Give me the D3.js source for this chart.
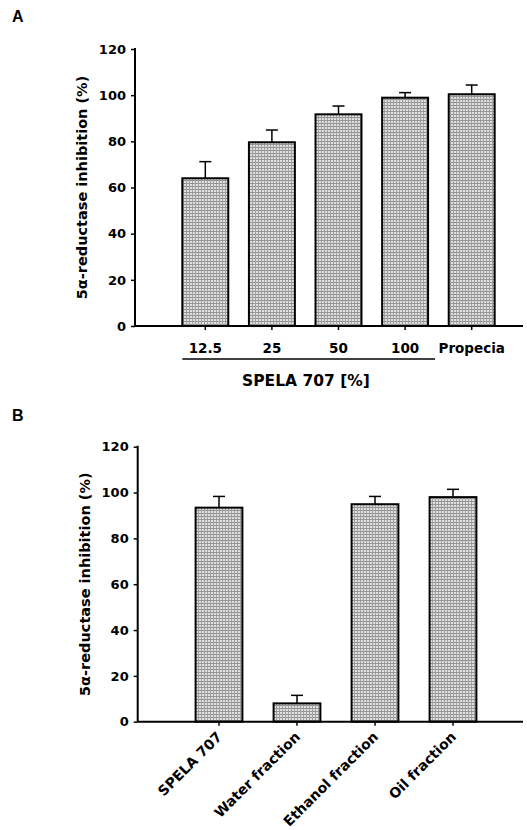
<!DOCTYPE html>
<html>
<head>
<meta charset="utf-8">
<script src="https://cdn.jsdelivr.net/npm/d3@7"></script>
<style>
  body { margin: 0; background: #fff; }
  svg { display: block; }
  text { font-family: "DejaVu Sans", Arial, sans-serif; font-weight: bold; fill: #000; }
</style>
</head>
<body>
<div id="chart"></div>
<script>
// panel A: SPELA 707 dilutions vs Propecia
var catsA = ["12.5", "25", "50", "100", "Propecia"];
var valsA = [64.0, 79.6, 91.7, 98.9, 100.4];
var errA = [7.2, 5.3, 3.6, 2.2, 4.0];

// panel B: fractions
var catsB = ["SPELA 707", "Water fraction", "Ethanol fraction", "Oil fraction"];
var valsB = [93.4, 8.0, 94.9, 98.0];
var errB = [4.9, 3.5, 3.4, 3.4];

var yTicks = [0, 20, 40, 60, 80, 100, 120];
var yLabel = "5\u03b1-reductase inhibition (%)";

var svg = d3.select("#chart").append("svg")
    .attr("width", 527)
    .attr("height", 830);

// stippled fill like the scanned figure
var pat = svg.append("defs").append("pattern")
    .attr("id", "stipple")
    .attr("patternUnits", "userSpaceOnUse")
    .attr("width", 3)
    .attr("height", 3);
pat.append("rect").attr("width", 3).attr("height", 3).attr("fill", "#e0e0e0");
pat.append("rect").attr("width", 3).attr("height", 1).attr("fill", "#909090");
pat.append("rect").attr("width", 1).attr("height", 3).attr("fill", "#a0a0a0");

function drawPanel(opts) {
    var g = svg.append("g");

    var y = d3.scaleLinear().domain([0, 120]).range([opts.y0, opts.y120]);
    var x = d3.scaleBand()
        .domain(opts.cats)
        .range(opts.xRange)
        .paddingInner(opts.pad)
        .paddingOuter(opts.pad / 2);

    // panel letter
    g.append("text")
        .attr("x", 12)
        .attr("y", opts.letterY)
        .style("font-size", "16px")
        .style("font-family", "'Liberation Sans', Arial, sans-serif")
        .text(opts.letter);

    // y axis
    var yAxis = d3.axisLeft(y).tickValues(yTicks).tickSize(4).tickPadding(5);
    var ya = g.append("g")
        .attr("transform", "translate(" + opts.axisX + ",0)")
        .call(yAxis);
    ya.select(".domain").attr("stroke-width", 2).attr("d", "M0," + (opts.y120 - 1) + "V" + opts.y0);
    ya.selectAll(".tick line").attr("stroke-width", 1.5);
    ya.selectAll(".tick text")
        .style("font-family", "'DejaVu Sans', Arial, sans-serif")
        .style("font-weight", "bold")
        .style("font-size", "13px");

    g.append("text")
        .attr("transform", "translate(" + opts.labelX + "," + ((opts.y0 + opts.y120) / 2) + ") rotate(-90)")
        .attr("text-anchor", "middle")
        .style("font-size", "14.5px")
        .text(yLabel);

    // bars
    g.selectAll(".bar")
        .data(opts.vals)
        .enter().append("rect")
        .attr("class", "bar")
        .attr("x", function (d, i) { return x(opts.cats[i]); })
        .attr("y", function (d) { return y(d); })
        .attr("width", x.bandwidth())
        .attr("height", function (d) { return opts.y0 - y(d); })
        .attr("fill", "url(#stipple)")
        .attr("stroke", "#000")
        .attr("stroke-width", 2);

    // error bars (upper only)
    var eb = g.selectAll(".err")
        .data(opts.vals)
        .enter().append("g")
        .attr("class", "err")
        .attr("transform", function (d, i) {
            return "translate(" + (x(opts.cats[i]) + x.bandwidth() / 2) + ",0)";
        });
    eb.append("line")
        .attr("y1", function (d) { return y(d); })
        .attr("y2", function (d, i) { return y(d + opts.errs[i]); })
        .attr("stroke", "#000").attr("stroke-width", 1.5);
    eb.append("line")
        .attr("x1", -6).attr("x2", 6)
        .attr("y1", function (d, i) { return y(d + opts.errs[i]); })
        .attr("y2", function (d, i) { return y(d + opts.errs[i]); })
        .attr("stroke", "#000").attr("stroke-width", 1.5);

    // x axis line, extends past the last bar
    g.append("line")
        .attr("x1", opts.axisX).attr("x2", 523)
        .attr("y1", opts.y0).attr("y2", opts.y0)
        .attr("stroke", "#000").attr("stroke-width", 2);

    var xAxis = d3.axisBottom(x).tickSize(4).tickFormat("");
    var xa = g.append("g")
        .attr("transform", "translate(0," + opts.y0 + ")")
        .call(xAxis);
    xa.select(".domain").remove();
    xa.selectAll(".tick line").attr("stroke-width", 1.5);

    return {g: g, x: x, y: y};
}

// ---- panel A ----
var A = drawPanel({
    letter: "A", letterY: 22,
    cats: catsA, vals: valsA, errs: errA,
    y0: 326, y120: 49, axisX: 135, labelX: 87,
    xRange: [172, 505], pad: 0.31
});

A.g.selectAll(".xlab")
    .data(catsA)
    .enter().append("text")
    .attr("class", "xlab")
    .attr("x", function (d) { return A.x(d) + A.x.bandwidth() / 2; })
    .attr("y", 352.5)
    .attr("text-anchor", "middle")
    .style("font-size", "13.5px")
    .text(function (d) { return d; });

// bracket under the SPELA concentrations
A.g.append("line")
    .attr("x1", A.x(catsA[0]))
    .attr("x2", A.x(catsA[3]) + A.x.bandwidth() + 7)
    .attr("y1", 359).attr("y2", 359)
    .attr("stroke", "#000").attr("stroke-width", 1.5);

A.g.append("text")
    .attr("x", 306)
    .attr("y", 385.5)
    .attr("text-anchor", "middle")
    .style("font-size", "15.5px")
    .text("SPELA 707 [%]");

// ---- panel B ----
var B = drawPanel({
    letter: "B", letterY: 421,
    cats: catsB, vals: valsB, errs: errB,
    y0: 721.7, y120: 446.7, axisX: 137.7, labelX: 90,
    xRange: [180, 492], pad: 0.40
});

B.g.selectAll(".xlab")
    .data(catsB)
    .enter().append("text")
    .attr("class", "xlab")
    .attr("text-anchor", "end")
    .attr("transform", function (d) {
        var cx = B.x(d) + B.x.bandwidth() / 2;
        return "translate(" + (cx + 4) + "," + (721.7 + 16) + ") rotate(-45)";
    })
    .style("font-size", "14px")
    .text(function (d) { return d; });
</script>
</body>
</html>
